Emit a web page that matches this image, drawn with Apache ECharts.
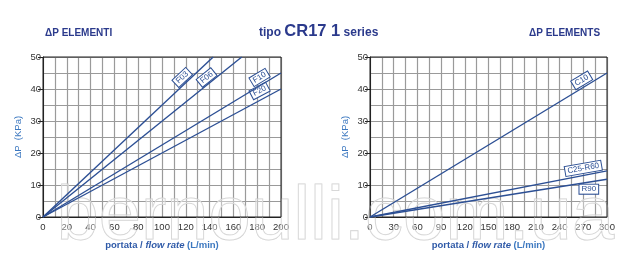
<!DOCTYPE html>
<html><head><meta charset="utf-8">
<script src="https://cdn.jsdelivr.net/npm/echarts@6/dist/echarts.min.js"></script>
<style>html,body{margin:0;padding:0;background:#fff}#c{width:636px;height:267px}</style>
</head><body><div id="c"></div>
<script>
// Left chart (ΔP ELEMENTI) — straight lines from origin to end points
const leftNames = ['F03', 'F06', 'F10', 'F20'];
const leftStart = [0, 0];
const leftEnds = [[143, 50], [167, 50], [200, 45], [200, 40]];
const leftLabelPos = [[117, 43.6], [137.5, 43.6], [182, 43.6], [182, 39.4]];
const leftLabelRot = [43, 39, 31, 28];
const leftXTicks = [0, 20, 40, 60, 80, 100, 120, 140, 160, 180, 200];

// Right chart (ΔP ELEMENTS)
const rightNames = ['C10', 'C25-R60', 'R90'];
const rightStart = [0, 0];
const rightEnds = [[300, 45], [300, 14.4], [300, 11.8]];
const rightLabelPos = [[268, 42.7], [270, 15.2], [277, 8.7]];
const rightLabelRot = [31, 10, 0];
const rightXTicks = [0, 30, 60, 90, 120, 150, 180, 210, 240, 270, 300];

const yTicks = [0, 10, 20, 30, 40, 50];

const LINE = '#2c4f94';
const TXT = '#2b3a8c';
const FONT = 'Liberation Sans';

function xAxis(grid, ticks) {
  const step = ticks[1] - ticks[0];
  return {
    type: 'value', gridIndex: grid, min: ticks[0], max: ticks[ticks.length - 1], interval: step,
    axisLine: { show: true, lineStyle: { color: '#222', width: 1 } },
    axisTick: { show: false },
    axisLabel: { color: '#333', fontSize: 9.5, fontFamily: FONT, margin: 5 },
    splitLine: { show: true, lineStyle: { color: '#9a9a9a', width: 1.2 } },
    minorTick: { show: false, splitNumber: 2 },
    minorSplitLine: { show: true, lineStyle: { color: '#9a9a9a', width: 1.2 } },
    name: '{a|portata / }{b|flow rate }{c|(L/min)}', nameLocation: 'middle', nameGap: 23,
    nameTextStyle: { rich: {
      a: { color: '#2f5aa8', fontWeight: 'bold', fontSize: 9.5, fontFamily: FONT },
      b: { color: '#2f5aa8', fontWeight: 'bold', fontStyle: 'italic', fontSize: 9.5, fontFamily: FONT },
      c: { color: '#3c78c0', fontSize: 9.5, fontFamily: FONT, fontWeight: 'bold' } } }
  };
}
function yAxis(grid) {
  return {
    type: 'value', gridIndex: grid, min: yTicks[0], max: yTicks[yTicks.length - 1], interval: yTicks[1] - yTicks[0],
    axisLine: { show: true, lineStyle: { color: '#222', width: 1 } },
    axisTick: { show: true, length: 5, lineStyle: { color: '#222' } },
    axisLabel: { color: '#333', fontSize: 9.5, fontFamily: FONT, margin: 2 },
    splitLine: { show: true, lineStyle: { color: '#9a9a9a', width: 1.2 } },
    minorTick: { show: false, splitNumber: 2 },
    minorSplitLine: { show: true, lineStyle: { color: '#9a9a9a', width: 1.2 } },
    name: 'ΔP  (KPa)', nameLocation: 'middle', nameGap: 20, nameRotate: 90,
    nameTextStyle: { color: '#3c78c0', fontSize: 9.5, fontFamily: FONT }
  };
}
function mkSeries(names, start, ends, lpos, lrot, idx) {
  return names.map((n, i) => ({
    type: 'line', name: n, xAxisIndex: idx, yAxisIndex: idx,
    data: [start, ends[i]], symbol: 'none', silent: true, z: 5,
    lineStyle: { color: LINE, width: 1.4 },
    markPoint: {
      symbol: 'circle', symbolSize: 0, silent: true,
      data: [{ coord: lpos[i], value: n }],
      label: { show: true, position: 'inside', formatter: n, rotate: lrot[i],
        color: LINE, fontSize: 8, fontFamily: FONT,
        backgroundColor: '#fff', borderColor: LINE, borderWidth: 1, padding: [1, 2, 0, 2] }
    }
  }));
}

const chart = echarts.init(document.getElementById('c'), null, { renderer: 'canvas' });
chart.setOption({
  animation: false,
  backgroundColor: '#fff',
  title: [
    { text: 'ΔP ELEMENTI', left: 45, top: 28, padding: 0, textStyle: { color: TXT, fontSize: 10, fontWeight: 'bold', fontFamily: FONT } },
    { text: '{a|tipo }{b|CR17 1}{a| series}', left: 259, top: 23, padding: 0, textStyle: { rich: {
        a: { color: TXT, fontSize: 12, fontWeight: 'bold', fontFamily: FONT, verticalAlign: 'bottom', padding: [0,0,1,0] },
        b: { color: TXT, fontSize: 16.5, fontWeight: 'bold', fontFamily: FONT, verticalAlign: 'bottom' } } } },
    { text: 'ΔP ELEMENTS', left: 529, top: 28, padding: 0, textStyle: { color: TXT, fontSize: 10, fontWeight: 'bold', fontFamily: FONT } }
  ],
  grid: [
    { left: 43, top: 57, width: 238, height: 160, show: true, borderColor: '#222', borderWidth: 1, z: 3 },
    { left: 370, top: 57, width: 237, height: 160, show: true, borderColor: '#222', borderWidth: 1, z: 3 }
  ],
  xAxis: [xAxis(0, leftXTicks), xAxis(1, rightXTicks)],
  yAxis: [yAxis(0), yAxis(1)],
  series: [].concat(
    mkSeries(leftNames, leftStart, leftEnds, leftLabelPos, leftLabelRot, 0),
    mkSeries(rightNames, rightStart, rightEnds, rightLabelPos, rightLabelRot, 1)
  ),
  graphic: [
    { type: 'text', left: 56, top: 180, z: 1, silent: true,
      style: { text: 'bernoulli.com.ua', font: '76px "Liberation Sans"', fill: 'rgba(255,255,255,0.35)', stroke: '#cfcfcf', lineWidth: 1 } }
  ]
});
</script></body></html>
